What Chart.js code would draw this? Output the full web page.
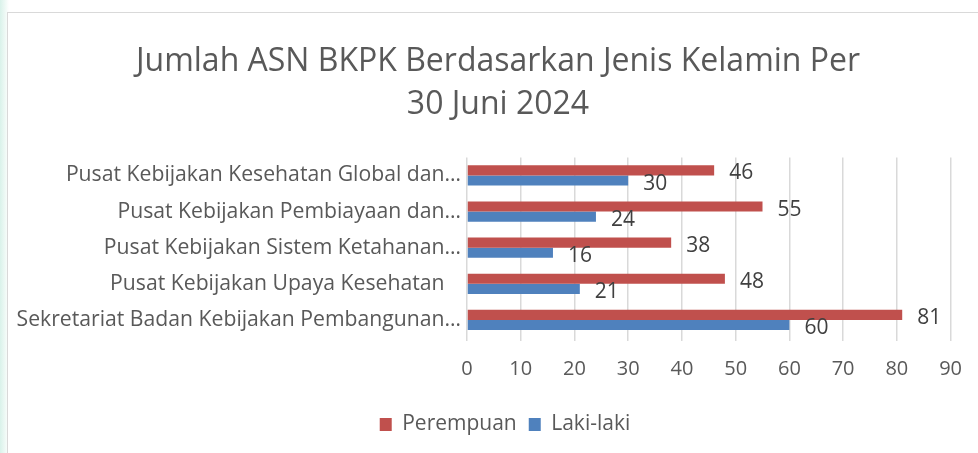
<!DOCTYPE html>
<html>
<head>
<meta charset="utf-8">
<script src="https://cdn.jsdelivr.net/npm/chart.js@4"></script>
<style>
  html, body { margin: 0; padding: 0; }
  body {
    width: 978px; height: 453px; overflow: hidden; position: relative;
    background: linear-gradient(to right, #d9f2ea 0px, #eef9f5 5px, #ffffff 9px);
  }
  #frame {
    position: absolute; left: 7px; top: 12px; width: 1000px; height: 460px;
    border: 1.5px solid #d9d9d9; background: #fff;
  }
  #wrap { position: absolute; left: 0; top: 0; width: 978px; height: 453px; }
</style>
</head>
<body>
<div id="frame"></div>
<div id="wrap"><canvas id="c"></canvas></div>
<script>
// ---- data ----
const categories = [
  'Pusat Kebijakan Kesehatan Global dan…',
  'Pusat Kebijakan Pembiayaan dan…',
  'Pusat Kebijakan Sistem Ketahanan…',
  'Pusat Kebijakan Upaya Kesehatan   ',
  'Sekretariat Badan Kebijakan Pembangunan…'
];
const perempuan = [46, 55, 38, 48, 81];
const lakiLaki = [30, 24, 16, 21, 60];
const xTicks = [0, 10, 20, 30, 40, 50, 60, 70, 80, 90];

const FONT = "'Open Sans', 'Noto Sans', sans-serif";

// labels at bar ends, like the Excel "outside end" labels
const barLabels = {
  id: 'barLabels',
  afterDatasetsDraw(chart) {
    const ctx = chart.ctx;
    ctx.save();
    ctx.font = '21px ' + FONT;
    ctx.fillStyle = '#404040';
    ctx.textAlign = 'left';
    ctx.textBaseline = 'middle';
    chart.data.datasets.forEach((ds, i) => {
      chart.getDatasetMeta(i).data.forEach((bar, j) => {
        ctx.fillText(ds.data[j], bar.x + 15, bar.y + 3);
      });
    });
    ctx.restore();
  }
};

// title and legend sit a bit right of the canvas centre in the original
const nudgeBoxes = {
  id: 'nudgeBoxes',
  afterLayout(chart) {
    if (chart.titleBlock) { chart.titleBlock.left += 17; chart.titleBlock.right += 17; }
    if (chart.legend) { chart.legend.left += 24; chart.legend.right += 24; }
  }
};

new Chart(document.getElementById('c'), {
  type: 'bar',
  data: {
    labels: categories,
    datasets: [
      { label: 'Perempuan', data: perempuan, backgroundColor: '#c0504d', categoryPercentage: 0.56, barPercentage: 1 },
      { label: 'Laki-laki', data: lakiLaki, backgroundColor: '#4f81bd', categoryPercentage: 0.56, barPercentage: 1 }
    ]
  },
  options: {
    indexAxis: 'y',
    responsive: true, maintainAspectRatio: false, animation: false,
    layout: { padding: { left: 8, right: 24, top: 40, bottom: 8 } },
    plugins: {
      title: {
        display: true,
        text: ['Jumlah ASN BKPK Berdasarkan Jenis Kelamin Per', '30 Juni 2024'],
        color: '#595959',
        font: { family: FONT, size: 32, weight: 'normal', lineHeight: 1.35 },
        padding: { top: 0, bottom: 31 }
      },
      legend: {
        position: 'bottom',
        labels: {
          color: '#595959', font: { family: FONT, size: 21 },
          boxWidth: 12, boxHeight: 13, padding: 12
        }
      },
      tooltip: { enabled: false }
    },
    scales: {
      x: {
        min: 0, max: 90,
        afterBuildTicks: ax => { ax.ticks = xTicks.map(v => ({ value: v })); },
        grid: { color: '#d9d9d9', lineWidth: 1.5, tickLength: 3 },
        border: { display: false },
        ticks: { color: '#595959', font: { family: FONT, size: 20 }, padding: 16 },
        afterFit: ax => { ax.height = 64; }
      },
      y: {
        grid: { display: false, drawTicks: false },
        border: { display: false },
        ticks: { color: '#595959', font: { family: FONT, size: 21.2 }, padding: 6 },
        afterFit: ax => { ax.width = 459; }
      }
    }
  },
  plugins: [barLabels, nudgeBoxes]
});
</script>
</body>
</html>
